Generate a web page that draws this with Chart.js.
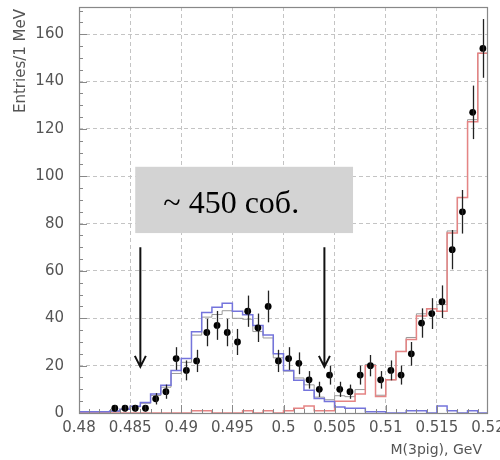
<!DOCTYPE html>
<html>
<head>
<meta charset="utf-8">
<script src="https://cdn.jsdelivr.net/npm/chart.js@4/dist/chart.umd.min.js"></script>
<style>
  html, body { margin: 0; padding: 0; background: #fff; }
  #wrap { width: 500px; height: 460px; position: relative; }
</style>
</head>
<body>
<div id="wrap"><canvas id="c"></canvas></div>
<script>
// Lower edges of the 1 MeV mass bins, GeV
const binLow = [
  0.480, 0.481, 0.482, 0.483, 0.484, 0.485, 0.486, 0.487, 0.488, 0.489,
  0.490, 0.491, 0.492, 0.493, 0.494, 0.495, 0.496, 0.497, 0.498, 0.499,
  0.500, 0.501, 0.502, 0.503, 0.504, 0.505, 0.506, 0.507, 0.508, 0.509,
  0.510, 0.511, 0.512, 0.513, 0.514, 0.515, 0.516, 0.517, 0.518, 0.519
];
const binWidth = 0.001;

// Measured entries per bin (null = empty bin) and their errors
const dataCounts = [
  null, null, null, 2, 2, 2, 2, 6, 9, 23,
  18, 22, 34, 37, 34, 30, 43, 36, 45, 22,
  23, 21, 14, 10, 16, 10, 9, 16, 20, 14,
  18, 16, 25, 38, 42, 47, 69, 85, 127, 154
];
const dataErrors = [
  null, null, null, 1.4, 1.4, 1.4, 1.4, 2.4, 3, 4.8,
  4.2, 4.7, 5.8, 6.1, 5.8, 5.5, 6.6, 6, 6.7, 4.7,
  4.8, 4.6, 3.7, 3.2, 4, 3.2, 3, 4, 4.5, 3.7,
  4.2, 4, 5, 6.2, 6.5, 6.9, 8.3, 9.2, 11.3, 12.4
];

// Simulated signal (blue), background (red) and their combination (grey)
const signalMC = [
  0.5, 0.5, 0.5, 0.8, 1.6, 2.8, 4.4, 8, 11.7, 18,
  23, 34.3, 42.5, 44.7, 46.4, 43, 41.5, 37, 33, 25,
  18, 13.8, 9.6, 6.1, 4.9, 2.5, 2, 2, 0.5, 0.5,
  0, 0, 1, 1, 0, 3, 1, 0, 1, 0
];
const background = [
  0, 0, 0, 0, 0, 0, 0, 0, 0, 0,
  0, 1, 1, 0, 0, 0, 1, 0, 1, 0,
  1, 2, 3, 1, 1, 5, 5, 8, 20, 7,
  14, 26, 31, 41, 44, 43, 76, 91, 123, 152
];
const totalSum = [
  0.5, 0.5, 0.5, 0.7, 1.5, 2.6, 4.1, 7.4, 10.9, 16.7,
  21.4, 32.9, 40.5, 41.6, 43.2, 40, 39.6, 34.4, 31.7, 23.3,
  17.7, 14.8, 11.9, 6.7, 5.6, 7.3, 6.9, 9.9, 20.5, 7.5,
  14, 26, 31.9, 41.9, 44, 45.8, 76.9, 91, 123.9, 152
];

const xTickValues = [0.48, 0.485, 0.49, 0.495, 0.5, 0.505, 0.51, 0.515, 0.52];
const xTickLabels = ['0.48', '0.485', '0.49', '0.495', '0.5', '0.505', '0.51', '0.515', '0.52'];
const yTickValues = [0, 20, 40, 60, 80, 100, 120, 140, 160];

// Signal window boundaries marked by arrows, GeV
const windowEdges = [0.486, 0.504];
const eventLabel = '~ 450 соб.';

const FONT = '"DejaVu Sans", "Liberation Sans", sans-serif';
const X_MIN = 0.48, X_MAX = 0.52, Y_MIN = 0, Y_MAX = 171.5;

function histPoints(values) {
  const pts = binLow.map((x, i) => ({ x: x, y: values[i] }));
  const last = binLow.length - 1;
  pts.push({ x: binLow[last] + binWidth, y: values[last] });
  return pts;
}
const dataPoints = binLow.map((x, i) => ({ x: x + binWidth / 2, y: dataCounts[i] }));

// Error bars on the measured points
const errorBars = {
  id: 'errorBars',
  afterDatasetsDraw(chart) {
    const { ctx, scales: { x, y } } = chart;
    ctx.save();
    ctx.strokeStyle = '#222';
    ctx.lineWidth = 1.3;
    dataPoints.forEach((p, i) => {
      if (p.y == null) return;
      const px = Math.round(x.getPixelForValue(p.x)) + 0.5;
      ctx.beginPath();
      ctx.moveTo(px, y.getPixelForValue(p.y - dataErrors[i]));
      ctx.lineTo(px, y.getPixelForValue(p.y + dataErrors[i]));
      ctx.stroke();
    });
    ctx.restore();
  }
};

// Frame, minor ticks, axis titles, annotation box and arrows
const decorations = {
  id: 'decorations',
  afterDraw(chart) {
    const { ctx, chartArea: a, scales: { x, y } } = chart;
    ctx.save();

    // minor ticks
    ctx.strokeStyle = '#888';
    ctx.lineWidth = 1;
    ctx.beginPath();
    for (let v = 5; v < Y_MAX; v += 5) {
      const py = Math.round(y.getPixelForValue(v)) + 0.5;
      const len = v % 20 === 0 ? 8 : 4;
      ctx.moveTo(a.left, py); ctx.lineTo(a.left + len, py);
    }
    binLow.forEach((b, i) => {
      const px = Math.round(x.getPixelForValue(b)) + 0.5;
      const len = i % 5 === 0 ? 8 : 4;
      ctx.moveTo(px, a.bottom); ctx.lineTo(px, a.bottom - len);
    });
    ctx.stroke();

    // frame
    ctx.strokeStyle = '#888';
    ctx.lineWidth = 1.2;
    ctx.strokeRect(a.left + 0.5, a.top + 0.5, a.right - a.left - 1, a.bottom - a.top);

    // annotation box with event count
    const bx0 = x.getPixelForValue(0.4855), bx1 = x.getPixelForValue(0.5068);
    const by0 = y.getPixelForValue(104), by1 = y.getPixelForValue(76);
    ctx.fillStyle = '#d3d3d3';
    ctx.fillRect(bx0, by0, bx1 - bx0, by1 - by0);
    ctx.fillStyle = '#000';
    ctx.font = '32px "Liberation Serif", "DejaVu Serif", serif';
    ctx.textAlign = 'left';
    ctx.textBaseline = 'alphabetic';
    ctx.fillText(eventLabel, x.getPixelForValue(0.48825), y.getPixelForValue(84.5));

    // arrows marking the signal window
    ctx.strokeStyle = '#111';
    ctx.lineWidth = 2;
    windowEdges.forEach(m => {
      const px = x.getPixelForValue(m);
      const top = y.getPixelForValue(70), tip = y.getPixelForValue(19.5);
      ctx.beginPath();
      ctx.moveTo(px, top); ctx.lineTo(px, tip);
      ctx.moveTo(px - 5.5, tip - 11); ctx.lineTo(px, tip); ctx.lineTo(px + 5.5, tip - 11);
      ctx.stroke();
    });

    // axis titles
    ctx.fillStyle = '#555';
    ctx.font = '15px ' + FONT;
    ctx.save();
    ctx.translate(21, 9);
    ctx.rotate(-Math.PI / 2);
    ctx.textAlign = 'right';
    ctx.textBaseline = 'middle';
    ctx.fillText('Entries/1 MeV', 0, 0);
    ctx.restore();
    ctx.font = '14px ' + FONT;
    ctx.textAlign = 'right';
    ctx.textBaseline = 'middle';
    ctx.fillText('M(3pig), GeV', 482, 450);

    ctx.restore();
  }
};

const gridColor = (edgeA, edgeB) => ctx =>
  (ctx.tick && (Math.abs(ctx.tick.value - edgeA) < 1e-9 || Math.abs(ctx.tick.value - edgeB) < 1e-9))
    ? 'rgba(0,0,0,0)' : '#c4c4c4';

new Chart(document.getElementById('c'), {
  type: 'line',
  data: {
    datasets: [
      {
        label: 'data',
        data: dataPoints,
        showLine: false,
        pointRadius: 3.4,
        pointBackgroundColor: '#000',
        pointBorderColor: '#000',
        pointBorderWidth: 0
      },
      {
        label: 'signal',
        data: histPoints(signalMC),
        stepped: 'before',
        borderColor: '#7474dc',
        borderWidth: 1.5,
        pointRadius: 0,
        fill: false
      },
      {
        label: 'background',
        data: histPoints(background),
        stepped: 'before',
        borderColor: '#e58484',
        borderWidth: 1.5,
        pointRadius: 0,
        fill: false
      },
      {
        label: 'sum',
        data: histPoints(totalSum),
        stepped: 'before',
        borderColor: '#999',
        borderWidth: 1,
        pointRadius: 0,
        fill: false
      }
    ]
  },
  options: {
    responsive: true,
    maintainAspectRatio: false,
    animation: false,
    devicePixelRatio: 1,
    layout: { padding: { left: 0, right: 12, top: 7, bottom: 0 } },
    plugins: { legend: { display: false }, tooltip: { enabled: false } },
    scales: {
      x: {
        type: 'linear',
        min: X_MIN,
        max: X_MAX,
        afterBuildTicks: s => { s.ticks = xTickValues.map(v => ({ value: v })); },
        afterFit: s => { s.height = 47; s.paddingLeft = 0; s.paddingRight = 0; },
        ticks: {
          autoSkip: false,
          maxRotation: 0,
          padding: 6,
          color: '#555',
          font: { family: FONT, size: 15 },
          callback: (v, i) => xTickLabels[i]
        },
        grid: { color: gridColor(X_MIN, X_MAX), lineWidth: 1, drawTicks: false },
        border: { display: false, dash: [4, 3] }
      },
      y: {
        type: 'linear',
        min: Y_MIN,
        max: Y_MAX,
        afterBuildTicks: s => { s.ticks = yTickValues.map(v => ({ value: v })); },
        afterFit: s => { s.width = 79; s.paddingTop = 0; s.paddingBottom = 0; },
        ticks: {
          padding: 15,
          color: '#555',
          font: { family: FONT, size: 15 },
          callback: v => String(v)
        },
        grid: { color: gridColor(Y_MIN, Y_MAX), lineWidth: 1, drawTicks: false },
        border: { display: false, dash: [4, 3] }
      }
    }
  },
  plugins: [errorBars, decorations]
});
</script>
</body>
</html>
